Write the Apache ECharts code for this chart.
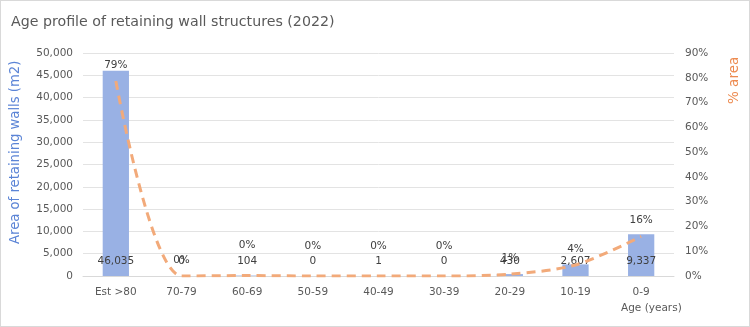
<!DOCTYPE html>
<html><head><meta charset="utf-8">
<script src="https://cdn.jsdelivr.net/npm/echarts@6/dist/echarts.min.js"></script>
<style>
html,body{margin:0;padding:0;background:#fff;}
#c{position:absolute;left:0;top:0;width:748px;height:325px;border:1px solid #d9d9d9;}
</style></head>
<body><div id="c"></div>
<script>
const categories = ['Est >80','70-79','60-69','50-59','40-49','30-39','20-29','10-19','0-9'];
const areaValues = [46035, 0, 104, 0, 1, 0, 430, 2607, 9337];
const pctValues = [0.787, 0, 0.0018, 0, 0, 0, 0.0073, 0.0446, 0.1596];
const leftTicks = {min: 0, max: 50000, interval: 5000};
const rightTicks = {min: 0, max: 0.9, interval: 0.1};

const font = '"DejaVu Sans", Verdana, sans-serif';
const txt = '#595959';
const chart = echarts.init(document.getElementById('c'));
const raisedLabels = [2,3,4,5];
chart.setOption({
  animation: false,
  textStyle: {fontFamily: font},
  title: {text: 'Age profile of retaining wall structures (2022)', left: 5, top: 9,
    textStyle: {fontFamily: font, fontSize: 14.2, fontWeight: 'normal', color: txt}},
  grid: {left: 82, right: 75, top: 52, bottom: 50},
  xAxis: {type: 'category', data: categories,
    axisLine: {lineStyle: {color: '#d9d9d9'}}, axisTick: {show: false},
    axisLabel: {color: txt, fontSize: 10.5, margin: 11, fontFamily: font}},
  yAxis: [
    {type: 'value', min: leftTicks.min, max: leftTicks.max, interval: leftTicks.interval,
      axisLabel: {color: txt, fontSize: 10.5, margin: 10, fontFamily: font,
        formatter: v => v.toLocaleString('en-US')},
      splitLine: {lineStyle: {color: '#e3e3e3'}}},
    {type: 'value', min: rightTicks.min, max: rightTicks.max, interval: rightTicks.interval,
      axisLabel: {color: txt, fontSize: 10.5, margin: 11, fontFamily: font,
        formatter: v => Math.round(v * 100) + '%'},
      splitLine: {show: false}}
  ],
  graphic: [
    {type: 'text', x: 8, y: 243, rotation: Math.PI / 2,
      style: {text: 'Area of retaining walls (m2)', fill: '#5b84d6', font: '13.2px ' + font}},
    {type: 'text', x: 726, y: 103, rotation: Math.PI / 2,
      style: {text: '% area', fill: '#ed8a4f', font: '13.5px ' + font}},
    {type: 'text', x: 620, y: 302,
      style: {text: 'Age (years)', fill: txt, font: '10.5px ' + font}}
  ],
  series: [
    {type: 'bar', data: areaValues, barWidth: '40%', itemStyle: {color: '#99b1e4'},
      label: {show: true, position: 'insideBottom', distance: 9, color: '#404040', fontSize: 10.5,
        fontFamily: font, formatter: p => p.value.toLocaleString('en-US')}},
    {type: 'line', yAxisIndex: 1, smooth: 0.3, symbol: 'circle', symbolSize: 1,
      itemStyle: {color: 'rgba(0,0,0,0)'},
      data: pctValues.map((v, i) => ({value: v,
        label: raisedLabels.includes(i) ? {distance: 24} : undefined})),
      lineStyle: {color: '#f2aa7a', width: 3, type: [9, 6]},
      labelLayout: {hideOverlap: false},
      label: {show: true, position: 'top', distance: 10, color: '#404040', fontSize: 10.5,
        fontFamily: font, formatter: p => Math.round(p.value * 100) + '%'}}
  ]
});
</script></body></html>
